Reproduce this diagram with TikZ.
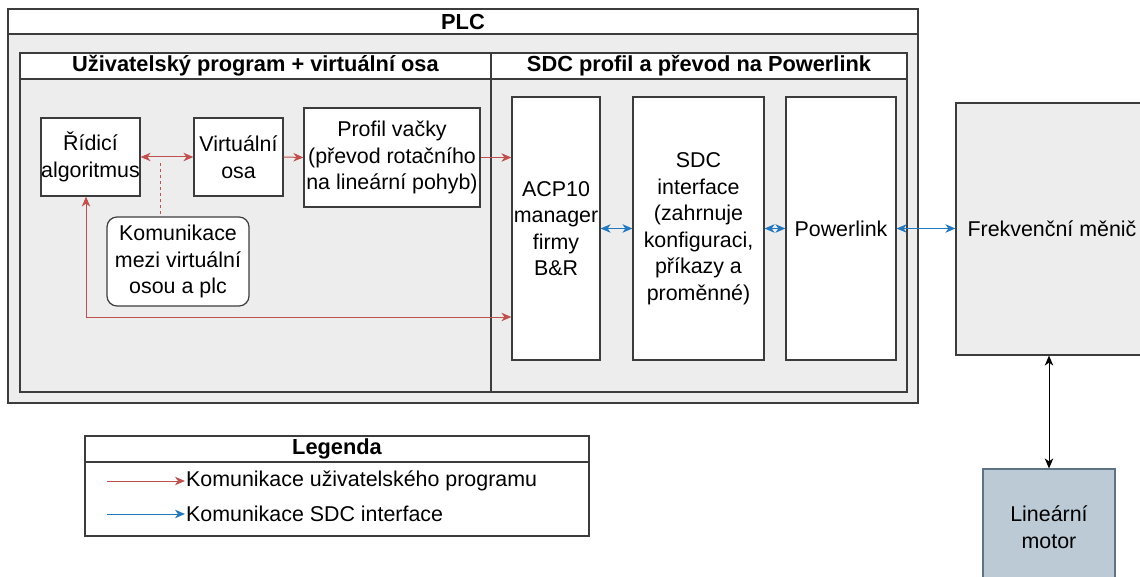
\documentclass[tikz,border=0pt]{standalone}
\usepackage{fontspec}
\setmainfont{Liberation Sans}
\usetikzlibrary{arrows.meta}
\definecolor{cmred}{RGB}{192,80,77}
\definecolor{cmblue}{RGB}{36,120,190}
\definecolor{panel}{RGB}{237,237,237}
\definecolor{edge}{RGB}{60,60,60}
\definecolor{motorfill}{RGB}{188,202,214}
\definecolor{motoredge}{RGB}{95,115,135}
\tikzset{
  txt/.style={font=\fontsize{21.4}{26.5}\selectfont, align=center},
  ttl/.style={font=\bfseries\fontsize{21.8}{26.5}\selectfont, inner sep=0pt},
  blk/.style={txt, draw=edge, line width=1.2pt, fill=white, inner sep=0pt},
  frame/.style={draw=edge, line width=1.2pt},
  tiphead/.tip={Stealth[length=10pt,width=8.5pt,inset=3pt]},
  tip/.style={-tiphead},
  dtip/.style={tiphead-tiphead},
  userlink/.style={draw=cmred, line width=1pt},
  sdclink/.style={draw=cmblue, line width=1pt},
}
\begin{document}
\begin{tikzpicture}[x=1pt,y=-1pt]
\useasboundingbox (0,0) rectangle (1140,577);
\clip (0,0) rectangle (1140,577);
\fill[white] (0,0) rectangle (1140,577);

% PLC frame
\filldraw[frame, fill=panel] (8,9) rectangle (918,403);
\filldraw[frame, fill=white] (8,9) rectangle (918,34);
\node[ttl] (plcT) at (463,22) {PLC};

% user program lane
\filldraw[frame, fill=panel] (20,53) rectangle (491,392);
\filldraw[frame, fill=white] (20,53) rectangle (491,79);
\node[ttl] (laneA) at (255.5,66) {Uživatelský program + virtuální osa};

% SDC lane
\filldraw[frame, fill=panel] (491,53) rectangle (907,392);
\filldraw[frame, fill=white] (491,53) rectangle (907,79);
\node[ttl] (laneB) at (699,66) {SDC profil a převod na Powerlink};

% blocks in the user program lane
\node[blk, minimum width=99pt, minimum height=78pt] (ridici) at (90.5,157) {Řídicí\\algoritmus};
\node[blk, minimum width=89pt, minimum height=78pt] (virt) at (238.5,157) {Virtuální\\osa};
\node[blk, minimum width=176pt, minimum height=99pt] (profil) at (392,157.5) {Profil vačky\\(převod rotačního\\na lineární pohyb)};
\node[blk, rounded corners=10pt, minimum width=142pt, minimum height=89pt] (kom) at (178,261.5) {Komunikace\\mezi virtuální\\osou a plc};

% blocks in the SDC lane
\node[blk, minimum width=88pt, minimum height=263pt] (acp) at (556,228.5) {ACP10\\manager\\firmy\\B\&R};
\node[blk, minimum width=131pt, minimum height=263pt] (sdc) at (698.5,228.5) {SDC\\interface\\(zahrnuje\\konfiguraci,\\příkazy a\\proměnné)};
\node[blk, minimum width=110pt, minimum height=263pt] (pwl) at (841,228.5) {Powerlink};

% drive and motor
\node[blk, fill=panel, minimum width=192pt, minimum height=252pt] (frek) at (1052,229) {Frekvenční měnič};
\node[blk, fill=motorfill, draw=motoredge, minimum width=132pt, minimum height=116pt] (motor) at (1049,527) {Lineární\\motor};

% user program links
\draw[userlink, dtip] (ridici.east) -- (virt.west);
\draw[userlink, tip] (virt.east) -- (profil.west);
\draw[userlink, tip] (profil.east) -- (acp.west |- profil.east);
\coordinate (lowrow) at (0,317);
\draw[userlink, dtip] ([xshift=-4.5pt]ridici.south) |- (acp.west |- lowrow);
\coordinate (note) at (160,163);
\draw[userlink, dash pattern=on 3pt off 3pt] (note) -- (note |- kom.north);

% SDC interface links
\draw[sdclink, dtip] (acp.east) -- (sdc.west);
\draw[sdclink, dtip] (sdc.east) -- (pwl.west);
\draw[sdclink, dtip] (pwl.east) -- (frek.west |- pwl.east);

% drive to motor
\draw[line width=1pt, dtip] (motor.north |- frek.south) -- (motor.north);

% legend
\draw[frame, fill=white] (85,436) rectangle (589,536);
\draw[frame] (85,462) -- (589,462);
\node[ttl] (legT) at (337,449) {Legenda};
\coordinate (l1a) at (107,481);
\coordinate (l1b) at (185,481);
\coordinate (l2a) at (107,514);
\coordinate (l2b) at (185,514);
\draw[userlink, tip] (l1a) -- (l1b);
\draw[sdclink, tip] (l2a) -- (l2b);
\node[txt, anchor=west, inner sep=0pt] (leg1) at (186,481) {Komunikace uživatelského programu};
\node[txt, anchor=west, inner sep=0pt] (leg2) at (186,514) {Komunikace SDC interface};
\end{tikzpicture}
\end{document}
